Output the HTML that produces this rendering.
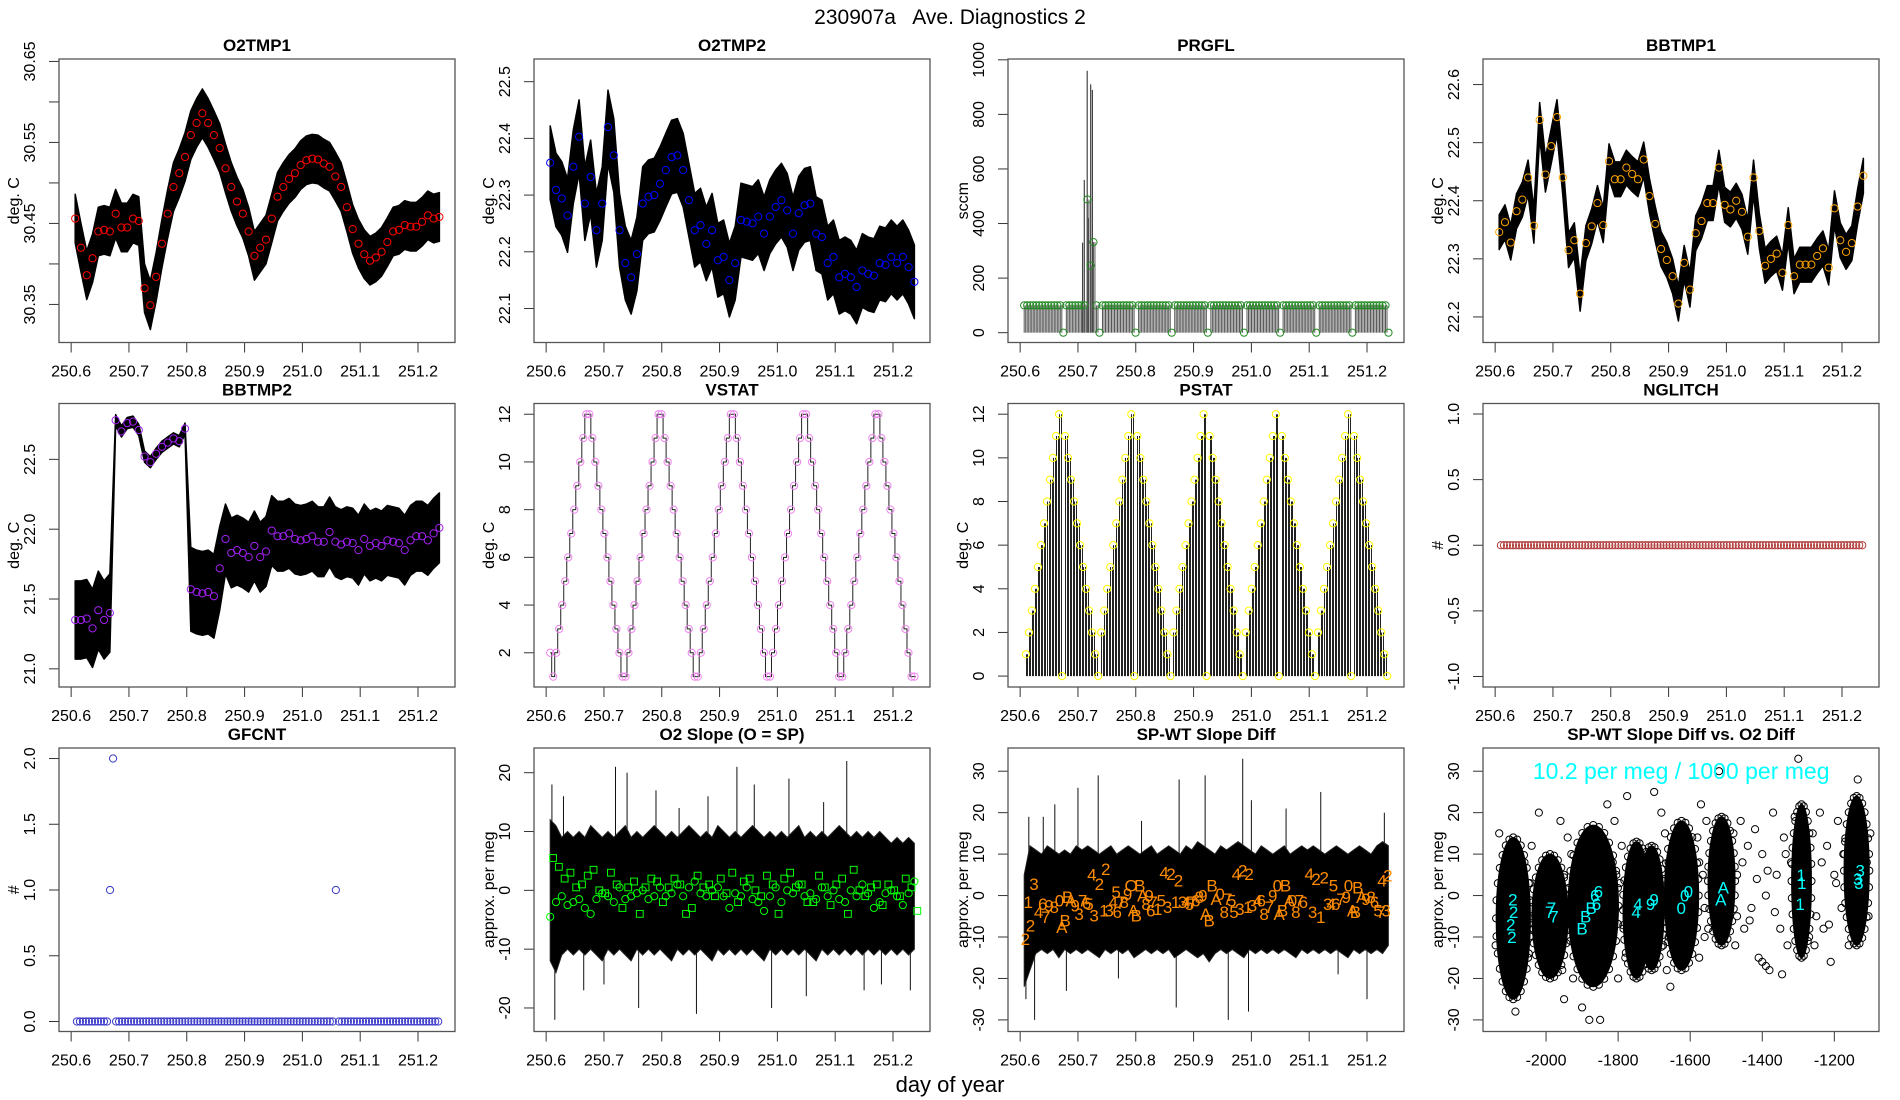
<!DOCTYPE html>
<html><head><meta charset="utf-8"><title>230907a Ave. Diagnostics 2</title>
<style>
html,body{margin:0;padding:0;background:#fff;}
svg{display:block;font-family:"Liberation Sans",Arial,sans-serif;}
</style></head>
<body>
<svg id="chart" xmlns="http://www.w3.org/2000/svg" width="1900" height="1100" viewBox="0 0 1900 1100">
<rect x="0" y="0" width="1900" height="1100" fill="#fff"/>
<text x="950" y="24" text-anchor="middle" font-size="21" style="white-space:pre">230907a   Ave. Diagnostics 2</text>
<text x="950" y="1092" text-anchor="middle" font-size="22">day of year</text>
</svg>
<script>
// ---- data ----
const T0 = 250.607, DT = 0.01;          // 64 averaged samples
const ST0 = 250.607, SDT = 0.0052083;   // stat/count samples
const O2TMP1 = [30.456,30.42,30.386,30.407,30.44,30.442,30.44,30.462,30.445,30.445,30.456,30.453,30.37,30.349,30.384,30.425,30.462,30.495,30.512,30.532,30.559,30.574,30.586,30.574,30.559,30.543,30.518,30.495,30.477,30.462,30.44,30.41,30.42,30.43,30.456,30.483,30.495,30.505,30.512,30.522,30.528,30.53,30.529,30.524,30.52,30.508,30.495,30.47,30.443,30.425,30.412,30.404,30.408,30.415,30.427,30.44,30.442,30.448,30.446,30.446,30.452,30.46,30.456,30.458];
const O2TMP1_SPREAD = 0.03;
const O2TMP2 = [22.357,22.309,22.294,22.264,22.35,22.403,22.285,22.332,22.238,22.285,22.42,22.37,22.238,22.18,22.155,22.196,22.285,22.297,22.3,22.32,22.344,22.367,22.37,22.344,22.291,22.238,22.247,22.214,22.238,22.185,22.191,22.15,22.18,22.256,22.253,22.25,22.262,22.232,22.262,22.279,22.291,22.273,22.232,22.268,22.282,22.285,22.232,22.226,22.18,22.191,22.155,22.161,22.155,22.138,22.167,22.161,22.158,22.18,22.177,22.191,22.18,22.191,22.173,22.147];
const O2TMP2_SPREAD = 0.065;
const BBTMP1 = [22.346,22.363,22.328,22.382,22.402,22.44,22.357,22.539,22.445,22.494,22.544,22.44,22.315,22.332,22.24,22.327,22.356,22.396,22.358,22.468,22.437,22.437,22.457,22.446,22.437,22.471,22.408,22.36,22.317,22.298,22.27,22.223,22.293,22.247,22.344,22.365,22.396,22.396,22.457,22.393,22.385,22.4,22.381,22.338,22.44,22.348,22.288,22.3,22.309,22.276,22.358,22.27,22.29,22.29,22.29,22.305,22.318,22.285,22.387,22.332,22.312,22.327,22.39,22.443];
const BBTMP1_SPREAD = 0.03;
const BBTMP2 = [21.35,21.35,21.36,21.29,21.42,21.35,21.40,22.78,22.70,22.76,22.77,22.71,22.52,22.48,22.54,22.59,22.62,22.65,22.63,22.72,21.57,21.55,21.54,21.55,21.52,21.72,21.93,21.83,21.85,21.83,21.80,21.88,21.80,21.84,21.99,21.95,21.95,21.97,21.93,21.92,21.93,21.95,21.91,21.91,21.98,21.91,21.89,21.91,21.90,21.85,21.93,21.88,21.90,21.88,21.92,21.91,21.90,21.85,21.92,21.95,21.95,21.92,21.97,22.01];
const BBTMP2_SPREAD = [0.28,0.28,0.28,0.28,0.28,0.28,0.28,0.04,0.04,0.04,0.04,0.04,0.04,0.04,0.04,0.04,0.04,0.04,0.04,0.04,0.3,0.3,0.3,0.3,0.3,0.3,0.25,0.25,0.25,0.25,0.25,0.25,0.25,0.25,0.25,0.25,0.25,0.25,0.25,0.25,0.25,0.25,0.25,0.25,0.25,0.25,0.25,0.25,0.25,0.25,0.25,0.25,0.25,0.25,0.25,0.25,0.25,0.25,0.25,0.25,0.25,0.25,0.25,0.25];
const PRGFL = [100,100,100,100,100,100,100,100,100,100,100,100,100,0,100,100,100,100,100,100,100,488,246,332,100,0,100,100,100,100,100,100,100,100,100,100,100,0,100,100,100,100,100,100,100,100,100,100,100,0,100,100,100,100,100,100,100,100,100,100,100,0,100,100,100,100,100,100,100,100,100,100,100,0,100,100,100,100,100,100,100,100,100,100,100,0,100,100,100,100,100,100,100,100,100,100,100,0,100,100,100,100,100,100,100,100,100,100,100,0,100,100,100,100,100,100,100,100,100,100,100,0];
const PRGFL_SPIKE_T = [250.708,250.711,250.716,250.718,250.722,250.725];
const PRGFL_SPIKE_V = [330,560,960,420,910,890];
const VSTAT = [2,1,2,3,4,5,6,7,8,9,10,11,12,12,11,10,9,8,7,6,5,4,3,2,1,1,2,3,4,5,6,7,8,9,10,11,12,12,11,10,9,8,7,6,5,4,3,2,1,1,2,3,4,5,6,7,8,9,10,11,12,12,11,10,9,8,7,6,5,4,3,2,1,1,2,3,4,5,6,7,8,9,10,11,12,12,11,10,9,8,7,6,5,4,3,2,1,1,2,3,4,5,6,7,8,9,10,11,12,12,11,10,9,8,7,6,5,4,3,2,1,1];
const PSTAT = [1,2,3,4,5,6,7,8,9,10,11,12,0,11,10,9,8,7,6,5,4,3,2,1,0,2,3,4,5,6,7,8,9,10,11,12,0,11,10,9,8,7,6,5,4,3,2,1,0,2,3,4,5,6,7,8,9,10,11,12,0,11,10,9,8,7,6,5,4,3,2,1,0,2,3,4,5,6,7,8,9,10,11,12,0,11,10,9,8,7,6,5,4,3,2,1,0,2,3,4,5,6,7,8,9,10,11,12,0,11,10,9,8,7,6,5,4,3,2,1,0];
const NGLITCH = [0,0,0,0,0,0,0,0,0,0,0,0,0,0,0,0,0,0,0,0,0,0,0,0,0,0,0,0,0,0,0,0,0,0,0,0,0,0,0,0,0,0,0,0,0,0,0,0,0,0,0,0,0,0,0,0,0,0,0,0,0,0,0,0,0,0,0,0,0,0,0,0,0,0,0,0,0,0,0,0,0,0,0,0,0,0,0,0,0,0,0,0,0,0,0,0,0,0,0,0,0,0,0,0,0,0,0,0,0,0,0,0,0,0,0,0,0,0,0,0,0];
const GFCNT = [0,0,0,0,0,0,0,0,0,0,0,1,2,0,0,0,0,0,0,0,0,0,0,0,0,0,0,0,0,0,0,0,0,0,0,0,0,0,0,0,0,0,0,0,0,0,0,0,0,0,0,0,0,0,0,0,0,0,0,0,0,0,0,0,0,0,0,0,0,0,0,0,0,0,0,0,0,0,0,0,0,0,0,0,0,0,1,0,0,0,0,0,0,0,0,0,0,0,0,0,0,0,0,0,0,0,0,0,0,0,0,0,0,0,0,0,0,0,0,0,0];
const O2_HI = [12,11,9,10,9,10,9,11,10,9,10,9,10,11,9,10,9,10,11,10,9,10,9,10,11,10,9,10,9,11,10,9,10,9,10,11,10,9,10,9,10,9,10,11,9,10,9,10,9,10,11,10,9,10,9,10,9,10,9,8,9,8,9,8];
const O2_LO = [-12,-14,-11,-10,-11,-10,-11,-10,-11,-12,-10,-11,-10,-11,-12,-10,-11,-10,-11,-10,-11,-12,-10,-11,-10,-11,-10,-11,-12,-10,-11,-10,-11,-10,-11,-10,-11,-12,-10,-11,-10,-11,-10,-11,-10,-11,-12,-10,-11,-10,-11,-10,-11,-10,-11,-10,-11,-10,-11,-10,-11,-10,-11,-10];
const O2_SPIKE_T = [250.61,250.615,250.63,250.665,250.72,250.74,250.76,250.79,250.86,250.88,250.93,250.96,250.99,251.02,251.05,251.12,251.18,251.23,250.7,250.83,251.08,251.15];
const O2_SPIKE_V = [18,-22,16,-17,21,20,-20,17,-21,16,21,18,-20,19,-18,22,-16,-17,-16,14,15,-17];
const O2_CIRCLES = [-4.5,-2,-1,-2.5,-2,-1.5,-3,-4,-1.5,-0.5,-1,-2,0.5,-1.5,-1,-0.5,0,-1.5,-1,0.5,-1,-0.5,1,-1,0.5,1.5,-0.5,-1,0,0.5,-1,-3,-0.5,-1,0.5,-1.5,-2,-3.5,-1,0.5,-2,0,-0.5,1,-1,-0.5,-1.5,0.5,-1,0,-1.5,-2,0,-1,1,-0.5,-3,-2,-0.5,0,-1,-2.5,-0.5,1.5];
const O2_SQUARES = [5.5,4,2,3,0.5,1,2.5,3.5,0,-0.5,3,1,-3,0.5,1.5,-4,0.5,2,1.5,-2,0.5,2,1,-4,-3,2.5,0.5,1,-1,2,-0.5,3,-2,1.5,2,0,-1,2.5,1,-4,2,3,0.5,1,-2,-2,2.5,0.5,-2.5,1,2,-4,3.5,0,-1,0.5,1,-2.5,1,0,-1,2,0.5,-3.5];
const SPWT_HI = [5,12,11,10,12,11,10,11,10,12,11,12,11,10,11,12,10,11,12,11,10,11,12,10,11,12,11,10,12,11,13,12,11,10,12,11,12,13,12,11,10,12,11,10,11,12,10,11,12,11,12,11,10,11,12,11,10,11,12,11,10,12,13,12];
const SPWT_LO = [-22,-18,-14,-13,-14,-13,-15,-13,-14,-13,-14,-13,-14,-15,-13,-14,-13,-14,-13,-15,-14,-13,-14,-13,-14,-13,-15,-14,-13,-14,-15,-14,-16,-14,-13,-14,-13,-14,-15,-13,-14,-13,-14,-13,-14,-13,-14,-15,-13,-14,-13,-14,-13,-14,-13,-14,-15,-13,-14,-13,-14,-13,-14,-12];
const SPWT_SPIKE_T = [250.61,250.615,250.625,250.64,250.66,250.7,250.735,250.81,250.875,250.87,250.92,250.96,250.985,250.995,251.0,251.06,251.12,251.2,251.23,250.68,250.77,251.15];
const SPWT_SPIKE_V = [-25,19,-30,19,22,26,29,18,28,-27,29,-30,33,-28,23,21,25,-25,20,-23,-20,-19];
const SPWT_LABEL_T = [250.609,250.614,250.618,250.624,250.632,250.639,250.644,250.65,250.659,250.668,250.672,250.678,250.682,250.688,250.695,250.702,250.708,250.715,250.719,250.724,250.728,250.737,250.745,250.748,250.754,250.761,250.766,250.768,250.774,250.78,250.786,250.792,250.796,250.801,250.807,250.812,250.818,250.823,250.826,250.83,250.838,250.844,250.849,250.855,250.861,250.869,250.874,250.881,250.887,250.893,250.898,250.904,250.91,250.916,250.921,250.927,250.932,250.939,250.946,250.953,250.959,250.966,250.97,250.974,250.98,250.985,250.994,250.996,251.002,251.011,251.017,251.022,251.031,251.037,251.045,251.048,251.054,251.059,251.066,251.071,251.077,251.083,251.09,251.1,251.106,251.112,251.12,251.126,251.132,251.138,251.142,251.146,251.155,251.164,251.168,251.175,251.18,251.184,251.191,251.198,251.207,251.213,251.219,251.224,251.226,251.233,251.236];
const SPWT_LABEL_V = [-10.5,-1.6,-7.2,2.8,-4,-2,-5.2,-2.4,-2.8,-1.2,-7.6,-6,-0.4,-1.2,-2.4,-4.4,-1.2,-1.8,-2,5.1,-4.8,2.8,-3.6,6.4,-3.6,-1.6,0.8,-4,-1.6,-1.6,0.4,2.4,-3.6,-4.8,2.4,0,-2,0,-3.6,-1.6,-3.2,-1.2,5.6,-2.8,5.2,-1.6,3.6,-1.6,-1.6,-2,-1.6,-1.2,-0.4,0,-4.4,-6,2.4,-0.8,0.4,-4,-0.8,-1.2,-4,5.2,-3.2,6,-2.8,5.2,-2.4,-1.2,-1.2,-4.4,-2.8,0,2.4,-4.4,-3.6,2.4,-1.2,-1.2,-4,-1.2,-1.6,5.2,-4,4,-5.2,4.4,-2,-2,2.4,-2,-0.8,-0.4,2.4,-3.6,-4,2,-0.4,-0.8,-0.4,-1.6,-3.6,-4,3.6,-3.6,4.8];
const SPWT_LABEL_CH = "2123467980ABBA93765432123456789OABBA89671543212345768 9ABBA08755432123468790ABBA0876432123456790ABBA9865743 21".replace(/ /g,'');
const CL_X = [-2091,-1989,-1869,-1749,-1707,-1624,-1513,-1291,-1138];
const CL_W = [95,100,140,75,70,95,75,55,70];
const CL_LO = [-25,-20,-22,-20,-18,-18,-12,-15,-12];
const CL_HI = [14,10,17,13,12,18,19,22,24];
const SC_X = [-2140,-2130,-2120,-2060,-2050,-2040,-2030,-2020,-2010,-1960,-1955,-1950,-1940,-1935,-1930,-1925,-1830,-1820,-1815,-1810,-1800,-1795,-1790,-1780,-1775,-1770,-1680,-1675,-1670,-1665,-1660,-1655,-1580,-1575,-1570,-1565,-1560,-1555,-1550,-1480,-1475,-1470,-1460,-1450,-1440,-1430,-1420,-1410,-1400,-1390,-1380,-1370,-1360,-1350,-1340,-1330,-1320,-1310,-1270,-1260,-1250,-1240,-1230,-1220,-1210,-1200,-1190,-1180,-1170,-1160,-1110,-1105,-1100,-1950,-1880,-1850,-1400,-1390,-1345,-2085,-1900,-1300,-1135,-1700,-1520,-2045,-2035,-1945,-1825,-1805,-1785,-1685,-1660,-1575,-1560,-1470,-1455,-1435,-1415,-1385,-1365,-1335,-1255,-1235,-1215,-1195,-1175];
const SC_Y = [-12,15,2,8,-15,12,-5,20,-10,18,-18,5,14,-8,10,-20,22,-12,8,18,-20,3,12,-15,24,-5,20,-12,15,-18,8,-22,14,-15,22,5,-10,18,-8,15,-12,5,18,-8,12,-3,16,-15,10,0,-18,20,5,-8,14,-12,8,19,-10,15,-5,20,-8,12,-16,5,18,-3,13,-12,8,-5,15,-25,-30,-30,-16,-17,-19,-28,-27,33,28,25,30,3,-8,-3,-5,5,-8,3,-10,8,-3,-5,8,-6,4,6,-4,10,-12,8,-7,3,10];
const CY_X = [-2095,-2098,-2090,-2092,-1985,-1978,-1990,-1900,-1890,-1875,-1865,-1860,-1855,-1750,-1745,-1710,-1700,-1625,-1615,-1605,-1515,-1508,-1290,-1295,-1292,-1135,-1128,-1132];
const CY_Y = [-10,-7,-4,-1,-3,-5,-4,-8,-5,-3,0,-2,1,-4,-2,-2,-1,-3,0,1,-1,2,3,-2,5,4,6,3];
const CY_CH = ["2","2","2","2","7","7","7","B","B","B","6","6","6","4","4","9","9","0","0","0","A","A","1","1","1","3","3","3"];
const DAY_TICKS = [250.6,250.7,250.8,250.9,251.0,251.1,251.2];
const DAY_LABELS = ["250.6","250.7","250.8","250.9","251.0","251.1","251.2"];

// ---- helpers ----
const NS = 'http://www.w3.org/2000/svg';
const svg = document.getElementById('chart');
function el(tag, attrs, parent){
  const e = document.createElementNS(NS, tag);
  for (const k in attrs) e.setAttribute(k, attrs[k]);
  (parent || svg).appendChild(e);
  return e;
}
const COLS = [59, 534, 1008, 1483], ROWS = [59, 403.5, 748], PW = 396, PH = 283.5;
const XLIM = [250.579, 251.264];

function frame(p){
  const L = COLS[p.col], T = ROWS[p.row];
  const g = el('g', {});
  
  
  const sx = v => L + (v - p.xlim[0]) / (p.xlim[1] - p.xlim[0]) * PW;
  const sy = v => T + PH - (v - p.ylim[0]) / (p.ylim[1] - p.ylim[0]) * PH;
  const t = el('text', {x: L + PW/2, y: T - 8, 'text-anchor': 'middle', 'font-size': 17, 'font-weight': 'bold'}, g);
  
  
  t.textContent = p.title;
  const xa = el('g', {}, g);
  
  
  p.xticks.forEach((v, i) => {
    const x = sx(v);
    const tk = el('line', {x1: x, y1: T+PH, x2: x, y2: T+PH+10, stroke: '#333', 'stroke-width': 1}, xa);
    
    
    const lb = el('text', {x: x, y: T+PH+34, 'text-anchor': 'middle', 'font-size': 16}, xa);
    
    
    lb.textContent = p.xlabels[i];
  });
  const ya = el('g', {}, g);
  
  
  p.yticks.forEach((v, i) => {
    const y = sy(v);
    const tk = el('line', {x1: L-10, y1: y, x2: L, y2: y, stroke: '#333', 'stroke-width': 1}, ya);
    
    
    if (p.ylabels[i]) {
      const lb = el('text', {x: L-24, y: y, 'text-anchor': 'middle', 'font-size': 16, transform: `rotate(-90 ${L-24} ${y})`}, ya);
      
      
      lb.textContent = p.ylabels[i];
    }
  });
  const yt = el('text', {x: L-40, y: T+PH/2, 'text-anchor': 'middle', 'font-size': 16, transform: `rotate(-90 ${L-40} ${T+PH/2})`}, g);
  
  
  yt.textContent = p.ytitle;
  const plot = el('g', {}, g);
  
  
  const box = el('rect', {x: L, y: T, width: PW, height: PH, fill: 'none', stroke: '#555', 'stroke-width': 1.3}, g);
  
  
  return {sx, sy, plot};
}
function dayAt(i){ return T0 + i*DT; }
function sdayAt(i){ return ST0 + i*SDT; }
function circle(parent, x, y, color, name, r){
  const c = el('circle', {cx: x, cy: y, r: r || 3.6, fill: 'none', stroke: color, 'stroke-width': 1}, parent);
  
  
  return c;
}
function bandSeries(ctx, vals, spread, name){
  const up = [], dn = [];
  vals.forEach((v, i) => {
    const s = Array.isArray(spread) ? spread[i] : spread;
    up.push(ctx.sx(dayAt(i)) + ',' + ctx.sy(v + s));
    dn.unshift(ctx.sx(dayAt(i)) + ',' + ctx.sy(v - s));
  });
  const pg = el('polygon', {points: up.concat(dn).join(' '), fill: '#000', stroke: '#000', 'stroke-width': 1.5, 'stroke-linejoin': 'round'}, ctx.plot);
  
  
}
function meanCircles(ctx, vals, color, name){
  vals.forEach((v, i) => circle(ctx.plot, ctx.sx(dayAt(i)), ctx.sy(v), color, name));
}

// ---- Panel 1 O2TMP1 ----
(function(){
  const c = frame({col:0,row:0,name:'o2tmp1',title:'O2TMP1',xlim:XLIM,ylim:[30.303,30.653],xticks:DAY_TICKS,xlabels:DAY_LABELS,
    yticks:[30.35,30.40,30.45,30.50,30.55,30.60,30.65],ylabels:['30.35','','30.45','','30.55','','30.65'],ytitle:'deg. C'});
  bandSeries(c, O2TMP1, O2TMP1_SPREAD, 'o2tmp1-raw-band');
  meanCircles(c, O2TMP1, '#ff0000', 'o2tmp1-mean-point');
})();
// ---- Panel 2 O2TMP2 ----
(function(){
  const c = frame({col:1,row:0,name:'o2tmp2',title:'O2TMP2',xlim:XLIM,ylim:[22.04,22.54],xticks:DAY_TICKS,xlabels:DAY_LABELS,
    yticks:[22.1,22.2,22.3,22.4,22.5],ylabels:['22.1','22.2','22.3','22.4','22.5'],ytitle:'deg. C'});
  bandSeries(c, O2TMP2, O2TMP2_SPREAD, 'o2tmp2-raw-band');
  meanCircles(c, O2TMP2, '#0000ff', 'o2tmp2-mean-point');
})();
// ---- Panel 3 PRGFL ----
(function(){
  const c = frame({col:2,row:0,name:'prgfl',title:'PRGFL',xlim:XLIM,ylim:[-36,1003],xticks:DAY_TICKS,xlabels:DAY_LABELS,
    yticks:[0,200,400,600,800,1000],ylabels:['0','200','400','600','800','1000'],ytitle:'sccm'});
  PRGFL_SPIKE_T.forEach((t, i) => {
    const l = el('line', {x1: c.sx(t), y1: c.sy(0), x2: c.sx(t), y2: c.sy(PRGFL_SPIKE_V[i]), stroke: '#444', 'stroke-width': 1.2}, c.plot);
    
    
  });
  PRGFL.forEach((v, i) => {
    for (let k = 0; k < 2; k++) {
      const x = c.sx(sdayAt(i) + k*SDT/2);
      const l = el('line', {x1: x, y1: c.sy(0), x2: x, y2: c.sy(v), stroke: '#555', 'stroke-width': 1}, c.plot);
      
      
    }
  });
  PRGFL.forEach((v, i) => circle(c.plot, c.sx(sdayAt(i)), c.sy(v), '#228b22', 'prgfl-point'));
})();
// ---- Panel 4 BBTMP1 ----
(function(){
  const c = frame({col:3,row:0,name:'bbtmp1',title:'BBTMP1',xlim:XLIM,ylim:[22.156,22.644],xticks:DAY_TICKS,xlabels:DAY_LABELS,
    yticks:[22.2,22.3,22.4,22.5,22.6],ylabels:['22.2','22.3','22.4','22.5','22.6'],ytitle:'deg. C'});
  bandSeries(c, BBTMP1, BBTMP1_SPREAD, 'bbtmp1-raw-band');
  meanCircles(c, BBTMP1, '#ffa500', 'bbtmp1-mean-point');
})();
// ---- Panel 5 BBTMP2 ----
(function(){
  const c = frame({col:0,row:1,name:'bbtmp2',title:'BBTMP2',xlim:XLIM,ylim:[20.87,22.9],xticks:DAY_TICKS,xlabels:DAY_LABELS,
    yticks:[21.0,21.5,22.0,22.5],ylabels:['21.0','21.5','22.0','22.5'],ytitle:'deg. C'});
  bandSeries(c, BBTMP2, BBTMP2_SPREAD, 'bbtmp2-raw-band');
  meanCircles(c, BBTMP2, '#a020f0', 'bbtmp2-mean-point');
})();
// ---- Panel 6 VSTAT ----
(function(){
  const c = frame({col:1,row:1,name:'vstat',title:'VSTAT',xlim:XLIM,ylim:[0.565,12.45],xticks:DAY_TICKS,xlabels:DAY_LABELS,
    yticks:[2,4,6,8,10,12],ylabels:['2','4','6','8','10','12'],ytitle:'deg. C'});
  let d = '';
  VSTAT.forEach((v, i) => {
    const x = c.sx(sdayAt(i)), y = c.sy(v);
    if (i === 0) d += `M${x},${y}`; else d += `V${y}H${x}`;
    d += `H${c.sx(sdayAt(i) + SDT*0.5)}`;
  });
  const p = el('path', {d: d, fill: 'none', stroke: '#222', 'stroke-width': 1}, c.plot);
  
  
  VSTAT.forEach((v, i) => circle(c.plot, c.sx(sdayAt(i)), c.sy(v), '#ee82ee', 'vstat-point'));
})();
// ---- Panel 7 PSTAT ----
(function(){
  const c = frame({col:2,row:1,name:'pstat',title:'PSTAT',xlim:XLIM,ylim:[-0.5,12.49],xticks:DAY_TICKS,xlabels:DAY_LABELS,
    yticks:[0,2,4,6,8,10,12],ylabels:['0','2','4','6','8','10','12'],ytitle:'deg. C'});
  PSTAT.forEach((v, i) => {
    for (let k = 0; k < 2; k++) {
      const x = Math.round(c.sx(ST0 + 0.003 + i*SDT + k*SDT/2)) + 0.5;
      const l = el('line', {x1: x, y1: c.sy(0), x2: x, y2: c.sy(v), stroke: '#222', 'stroke-width': 1}, c.plot);
      
      
    }
  });
  PSTAT.forEach((v, i) => circle(c.plot, c.sx(ST0 + 0.003 + i*SDT), c.sy(v), '#ffff00', 'pstat-point'));
})();
// ---- Panel 8 NGLITCH ----
(function(){
  const c = frame({col:3,row:1,name:'nglitch',title:'NGLITCH',xlim:XLIM,ylim:[-1.08,1.08],xticks:DAY_TICKS,xlabels:DAY_LABELS,
    yticks:[-1,-0.5,0,0.5,1],ylabels:['-1.0','-0.5','0.0','0.5','1.0'],ytitle:'#'});
  NGLITCH.forEach((v, i) => circle(c.plot, c.sx(ST0 + 0.003 + i*SDT), c.sy(v), '#b03a3a', 'nglitch-point'));
})();
// ---- Panel 9 GFCNT ----
(function(){
  const c = frame({col:0,row:2,name:'gfcnt',title:'GFCNT',xlim:XLIM,ylim:[-0.076,2.08],xticks:DAY_TICKS,xlabels:DAY_LABELS,
    yticks:[0,0.5,1,1.5,2],ylabels:['0.0','0.5','1.0','1.5','2.0'],ytitle:'#'});
  GFCNT.forEach((v, i) => circle(c.plot, c.sx(ST0 + 0.003 + i*SDT), c.sy(v), '#3a3ac8', 'gfcnt-point'));
})();
// ---- Panel 10 O2 Slope ----
(function(){
  const c = frame({col:1,row:2,name:'o2-slope',title:'O2 Slope (O = SP)',xlim:XLIM,ylim:[-24,24.2],xticks:DAY_TICKS,xlabels:DAY_LABELS,
    yticks:[-20,-10,0,10,20],ylabels:['-20','-10','0','10','20'],ytitle:'approx. per meg'});
  O2_SPIKE_T.forEach((t, i) => {
    const l = el('line', {x1: c.sx(t), y1: c.sy(0), x2: c.sx(t), y2: c.sy(O2_SPIKE_V[i]), stroke: '#111', 'stroke-width': 1}, c.plot);
    
    
  });
  const up = [], dn = [];
  O2_HI.forEach((v, i) => { up.push(c.sx(dayAt(i)) + ',' + c.sy(v)); dn.unshift(c.sx(dayAt(i)) + ',' + c.sy(O2_LO[i])); });
  const pg = el('polygon', {points: up.concat(dn).join(' '), fill: '#000', stroke: '#222', 'stroke-width': 1}, c.plot);
  
  
  O2_CIRCLES.forEach((v, i) => circle(c.plot, c.sx(dayAt(i)), c.sy(v), '#00ff00', 'o2-slope-sp-point'));
  O2_SQUARES.forEach((v, i) => {
    const x = c.sx(dayAt(i) + DT/2), y = c.sy(v);
    const r = el('rect', {x: x-3.4, y: y-3.4, width: 6.8, height: 6.8, fill: 'none', stroke: '#00ff00', 'stroke-width': 1}, c.plot);
    
    
  });
})();
// ---- Panel 11 SP-WT Slope Diff ----
(function(){
  const c = frame({col:2,row:2,name:'spwt-diff',title:'SP-WT Slope Diff',xlim:XLIM,ylim:[-32.8,35.6],xticks:DAY_TICKS,xlabels:DAY_LABELS,
    yticks:[-30,-20,-10,0,10,20,30],ylabels:['-30','-20','-10','0','10','20','30'],ytitle:'approx. per meg'});
  SPWT_SPIKE_T.forEach((t, i) => {
    const l = el('line', {x1: c.sx(t), y1: c.sy(0), x2: c.sx(t), y2: c.sy(SPWT_SPIKE_V[i]), stroke: '#111', 'stroke-width': 1}, c.plot);
    
    
  });
  const up = [], dn = [];
  SPWT_HI.forEach((v, i) => { up.push(c.sx(dayAt(i)) + ',' + c.sy(v)); dn.unshift(c.sx(dayAt(i)) + ',' + c.sy(SPWT_LO[i])); });
  const pg = el('polygon', {points: up.concat(dn).join(' '), fill: '#000', stroke: '#222', 'stroke-width': 1}, c.plot);
  
  
  SPWT_LABEL_T.forEach((t, i) => {
    const tx = el('text', {x: c.sx(t), y: c.sy(SPWT_LABEL_V[i]) + 6, 'text-anchor': 'middle', 'font-size': 17, fill: '#ff8c00'}, c.plot);
    
    
    tx.textContent = SPWT_LABEL_CH[i] || '0';
  });
})();
// ---- Panel 12 SP-WT vs O2 Diff ----
(function(){
  const c = frame({col:3,row:2,name:'spwt-vs-o2',title:'SP-WT Slope Diff vs. O2 Diff',xlim:[-2175,-1076],ylim:[-32.8,35.6],
    xticks:[-2000,-1800,-1600,-1400,-1200],xlabels:['-2000','-1800','-1600','-1400','-1200'],
    yticks:[-30,-20,-10,0,10,20,30],ylabels:['-30','-20','-10','0','10','20','30'],ytitle:'approx. per meg'});
  SC_X.forEach((x, i) => { if (SC_Y[i] !== undefined) circle(c.plot, c.sx(x), c.sy(SC_Y[i]), '#000', 'scatter-point'); });
  CL_X.forEach((x, i) => {
    const cx = c.sx(x), cy = (c.sy(CL_HI[i]) + c.sy(CL_LO[i])) / 2;
    const rx = (c.sx(x + CL_W[i]/2) - c.sx(x - CL_W[i]/2)) / 2, ry = (c.sy(CL_LO[i]) - c.sy(CL_HI[i])) / 2;
    const e = el('ellipse', {cx: cx, cy: cy, rx: rx, ry: ry, fill: '#000', stroke: '#000', 'stroke-width': 1}, c.plot);
    
    
    for (let k = 0; k < 28; k++) {
      const a = k / 28 * Math.PI * 2;
      circle(c.plot, cx + Math.cos(a) * rx, cy + Math.sin(a) * ry, '#000', 'cluster-edge-point');
    }
  });
  CY_X.forEach((x, i) => {
    const tx = el('text', {x: c.sx(x), y: c.sy(CY_Y[i]) + 6, 'text-anchor': 'middle', 'font-size': 17, fill: '#00ffff'}, c.plot);
    
    
    tx.textContent = CY_CH[i];
  });
  const ann = el('text', {x: c.sx(-1625), y: c.sy(30) + 8, 'text-anchor': 'middle', 'font-size': 23, fill: '#00ffff'}, c.plot);
  
  
  ann.textContent = '10.2 per meg / 1000 per meg';
})();
</script>
</body></html>
